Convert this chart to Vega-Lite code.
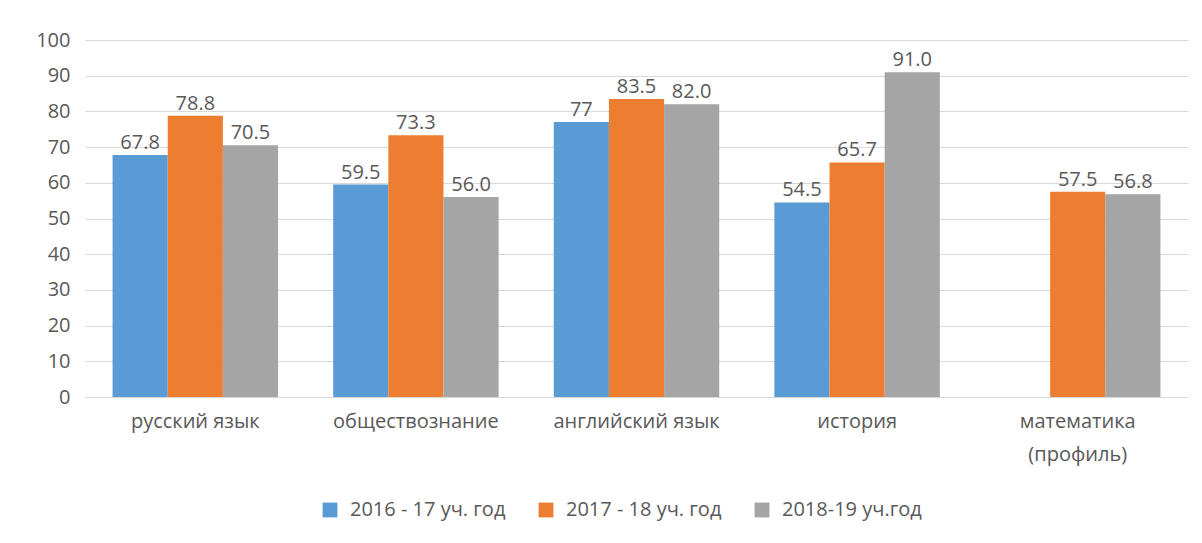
{
  "$schema": "https://vega.github.io/schema/vega-lite/v6.json",
  "width": 1103,
  "height": 357,
  "autosize": "none",
  "padding": {"left": 85, "top": 40, "right": 14, "bottom": 146},
  "background": "white",
  "config": {
    "font": "Open Sans",
    "view": {"stroke": null},
    "text": {"font": "Open Sans"}
  },
  "data": {
    "values": [
      {"subject": "русский язык", "series": "2016 - 17 уч. год", "value": 67.8, "label": "67.8"},
      {"subject": "русский язык", "series": "2017 - 18 уч. год", "value": 78.8, "label": "78.8"},
      {"subject": "русский язык", "series": "2018-19 уч.год", "value": 70.5, "label": "70.5"},
      {"subject": "обществознание", "series": "2016 - 17 уч. год", "value": 59.5, "label": "59.5"},
      {"subject": "обществознание", "series": "2017 - 18 уч. год", "value": 73.3, "label": "73.3"},
      {"subject": "обществознание", "series": "2018-19 уч.год", "value": 56.0, "label": "56.0"},
      {"subject": "английский язык", "series": "2016 - 17 уч. год", "value": 77, "label": "77"},
      {"subject": "английский язык", "series": "2017 - 18 уч. год", "value": 83.5, "label": "83.5"},
      {"subject": "английский язык", "series": "2018-19 уч.год", "value": 82.0, "label": "82.0"},
      {"subject": "история", "series": "2016 - 17 уч. год", "value": 54.5, "label": "54.5"},
      {"subject": "история", "series": "2017 - 18 уч. год", "value": 65.7, "label": "65.7"},
      {"subject": "история", "series": "2018-19 уч.год", "value": 91.0, "label": "91.0"},
      {"subject": "математика (профиль)", "series": "2017 - 18 уч. год", "value": 57.5, "label": "57.5"},
      {"subject": "математика (профиль)", "series": "2018-19 уч.год", "value": 56.8, "label": "56.8"}
    ]
  },
  "encoding": {
    "x": {
      "field": "subject",
      "type": "nominal",
      "sort": ["русский язык", "обществознание", "английский язык", "история", "математика (профиль)"],
      "scale": {"paddingInner": 0.25, "paddingOuter": 0.125},
      "axis": {
        "title": null,
        "domain": false,
        "ticks": false,
        "labelAngle": 0,
        "labelFontSize": 20,
        "labelColor": "#595959",
        "labelPadding": 14,
        "labelLineHeight": 33,
        "labelBaseline": "top",
        "labelExpr": "datum.value == 'математика (профиль)' ? ['математика', '(профиль)'] : datum.label"
      }
    },
    "xOffset": {
      "field": "series",
      "type": "nominal",
      "scale": {"domain": ["2016 - 17 уч. год", "2017 - 18 уч. год", "2018-19 уч.год"], "paddingInner": 0, "paddingOuter": 0}
    },
    "y": {
      "field": "value",
      "type": "quantitative",
      "scale": {"domain": [0, 100], "nice": false},
      "axis": {
        "title": null,
        "domain": false,
        "ticks": false,
        "values": [0, 10, 20, 30, 40, 50, 60, 70, 80, 90, 100],
        "labelFontSize": 20,
        "labelColor": "#595959",
        "labelPadding": 15,
        "gridColor": "#d9d9d9",
        "gridWidth": 1.2
      }
    }
  },
  "layer": [
    {
      "mark": {"type": "bar"},
      "encoding": {
        "color": {
          "field": "series",
          "type": "nominal",
          "scale": {
            "domain": ["2016 - 17 уч. год", "2017 - 18 уч. год", "2018-19 уч.год"],
            "range": ["#5B9BD5", "#ED7D31", "#A5A5A5"]
          },
          "legend": {
            "title": null,
            "orient": "none",
            "legendX": 235,
            "legendY": 460,
            "direction": "horizontal",
            "symbolType": "square",
            "symbolSize": 220,
            "symbolStrokeWidth": 0,
            "labelFontSize": 20,
            "labelColor": "#595959",
            "labelOffset": 10,
            "columnPadding": 30,
            "labelLimit": 300
          }
        }
      }
    },
    {
      "mark": {"type": "text", "baseline": "alphabetic", "dy": -6, "fontSize": 20, "color": "#595959"},
      "encoding": {
        "text": {"field": "label"}
      }
    }
  ]
}
